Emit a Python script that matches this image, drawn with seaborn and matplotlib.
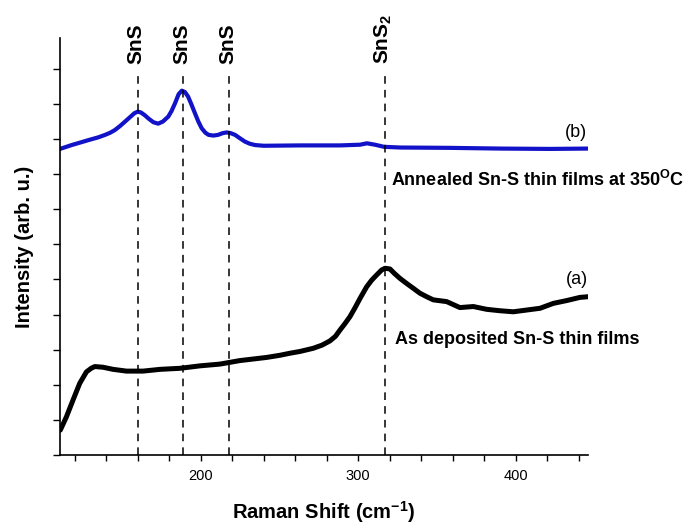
import matplotlib
matplotlib.use("Agg")
import matplotlib.pyplot as plt
import seaborn as sns
import pandas as pd

# ---- data ----
shift_b = [110.7, 118.1, 128.7, 135.0, 139.3, 142.5, 145.6, 149.0, 152.0, 155.0,
           158.0, 160.0, 162.0, 164.5, 167.0, 170.0, 173.0, 176.0, 179.4, 181.5,
           183.7, 186.0, 188.0, 190.0, 192.0, 194.0, 196.4, 198.5, 200.6, 203.0,
           205.0, 208.0, 211.0, 214.0, 216.5, 219.0, 221.8, 225.0, 228.0, 231.0,
           234.5, 240.0, 263.0, 288.4, 301.1, 305.5, 310.6, 316.3, 326.5, 358.2,
           390.0, 421.7, 445.8]
int_b = [8.72, 8.83, 8.97, 9.05, 9.12, 9.18, 9.26, 9.38, 9.50, 9.62,
         9.74, 9.78, 9.76, 9.68, 9.58, 9.48, 9.44, 9.50, 9.64, 9.80,
         10.02, 10.28, 10.38, 10.34, 10.21, 10.00, 9.73, 9.50, 9.31, 9.18,
         9.12, 9.10, 9.12, 9.17, 9.19, 9.17, 9.12, 9.02, 8.93, 8.87,
         8.83, 8.81, 8.82, 8.82, 8.84, 8.88, 8.84, 8.78, 8.76, 8.75,
         8.73, 8.72, 8.73]

shift_a = [110.9, 114.8, 119.0, 123.2, 127.5, 130.5, 132.8, 138.0, 144.4, 152.9,
           163.4, 174.2, 186.9, 199.6, 212.2, 224.9, 241.9, 250.2, 256.7, 263.0,
           271.4, 277.0, 282.0, 285.5, 288.4, 291.5, 294.7, 298.0, 301.1, 305.3,
           308.5, 311.7, 314.8, 317.0, 320.1, 323.0, 326.5, 330.6, 334.9, 339.1,
           343.4, 347.6, 356.1, 364.5, 373.0, 381.5, 389.9, 398.4, 406.9, 415.4,
           423.8, 432.3, 440.7, 446.0]
int_a = [0.71, 1.09, 1.57, 2.04, 2.37, 2.47, 2.52, 2.50, 2.44, 2.39,
         2.39, 2.44, 2.47, 2.54, 2.59, 2.69, 2.78, 2.84, 2.90, 2.95,
         3.04, 3.13, 3.25, 3.38, 3.56, 3.74, 3.94, 4.20, 4.46, 4.79,
         4.98, 5.13, 5.27, 5.32, 5.30, 5.17, 5.03, 4.89, 4.75, 4.61,
         4.51, 4.42, 4.37, 4.20, 4.23, 4.15, 4.11, 4.08, 4.13, 4.18,
         4.32, 4.40, 4.49, 4.51]

peak_pos = [160, 189, 218, 317]
peak_labels = ["SnS", "SnS", "SnS", r"SnS$_{\mathbf{2}}$"]
x_ticks = [200, 300, 400]

df_b = pd.DataFrame({"shift": shift_b, "intensity": int_b})
df_a = pd.DataFrame({"shift": shift_a, "intensity": int_a})

sns.set_theme(style="ticks")
plt.rcParams["font.family"] = ["Liberation Sans", "DejaVu Sans"]
plt.rcParams["mathtext.fontset"] = "custom"
plt.rcParams["mathtext.rm"] = "Liberation Sans"
plt.rcParams["mathtext.bf"] = "Liberation Sans:bold"
plt.rcParams["mathtext.it"] = "Liberation Sans:italic"
plt.rcParams["text.color"] = "black"
plt.rcParams["axes.labelcolor"] = "black"
plt.rcParams["xtick.color"] = "black"
plt.rcParams["ytick.color"] = "black"

fig = plt.figure(figsize=(6.84, 5.26), dpi=100)
ax = fig.add_axes([60 / 684, 1 - 455 / 526, 528 / 684, 417 / 526])

sns.lineplot(data=df_b, x="shift", y="intensity", ax=ax, color="#1212c8",
             lw=3.0, solid_capstyle="round", solid_joinstyle="round", sort=True)
sns.lineplot(data=df_a, x="shift", y="intensity", ax=ax, color="black",
             lw=3.6, solid_capstyle="round", solid_joinstyle="round", sort=True)

ax.set_xlim(110.7, 445.8)
ax.set_ylim(0, 11.88)

for xp, lab in zip(peak_pos, peak_labels):
    ax.plot([xp, xp], [0, 10.9], color="black", lw=1.1, ls=(0, (5, 4)))
    ax.text(xp - 1, 11.15, lab, rotation=90, ha="center", va="bottom",
            fontsize=15, fontweight="bold")

ax.text(445.1, 9.2, "(b)", ha="right", va="center", fontsize=13)
ax.text(445.7, 4.99, "(a)", ha="right", va="center", fontsize=13)
ax.text(320.5, 7.83, r"Annealed Sn-S thin films at 350$^{\mathbf{O}}$C",
        ha="left", va="center", fontsize=13, fontweight="bold")
ax.text(323.2, 3.30, "As deposited Sn-S thin films",
        ha="left", va="center", fontsize=13, fontweight="bold")

ax.set_xticks(x_ticks)
ax.set_xticks(list(range(120, 446, 20)), minor=True)
ax.set_yticks(list(range(0, 12)))
ax.set_yticklabels([])
ax.tick_params(axis="x", which="both", direction="out", length=4, width=1,
               labelsize=10.5, color="black", labelcolor="black", pad=6)
ax.tick_params(axis="y", which="both", direction="out", length=5, width=1,
               color="black")

for side in ["top", "right"]:
    ax.spines[side].set_visible(False)
for side in ["left", "bottom"]:
    ax.spines[side].set_color("black")
    ax.spines[side].set_linewidth(1.2)

ax.set_xlabel(r"Raman Shift (cm$^{\mathbf{-1}}$)", fontsize=14.5,
              fontweight="bold", labelpad=12)
ax.set_ylabel("Intensity (arb. u.)", fontsize=14.5, fontweight="bold",
              labelpad=10)
ax.grid(False)

fig.savefig("out.png", dpi=100)
